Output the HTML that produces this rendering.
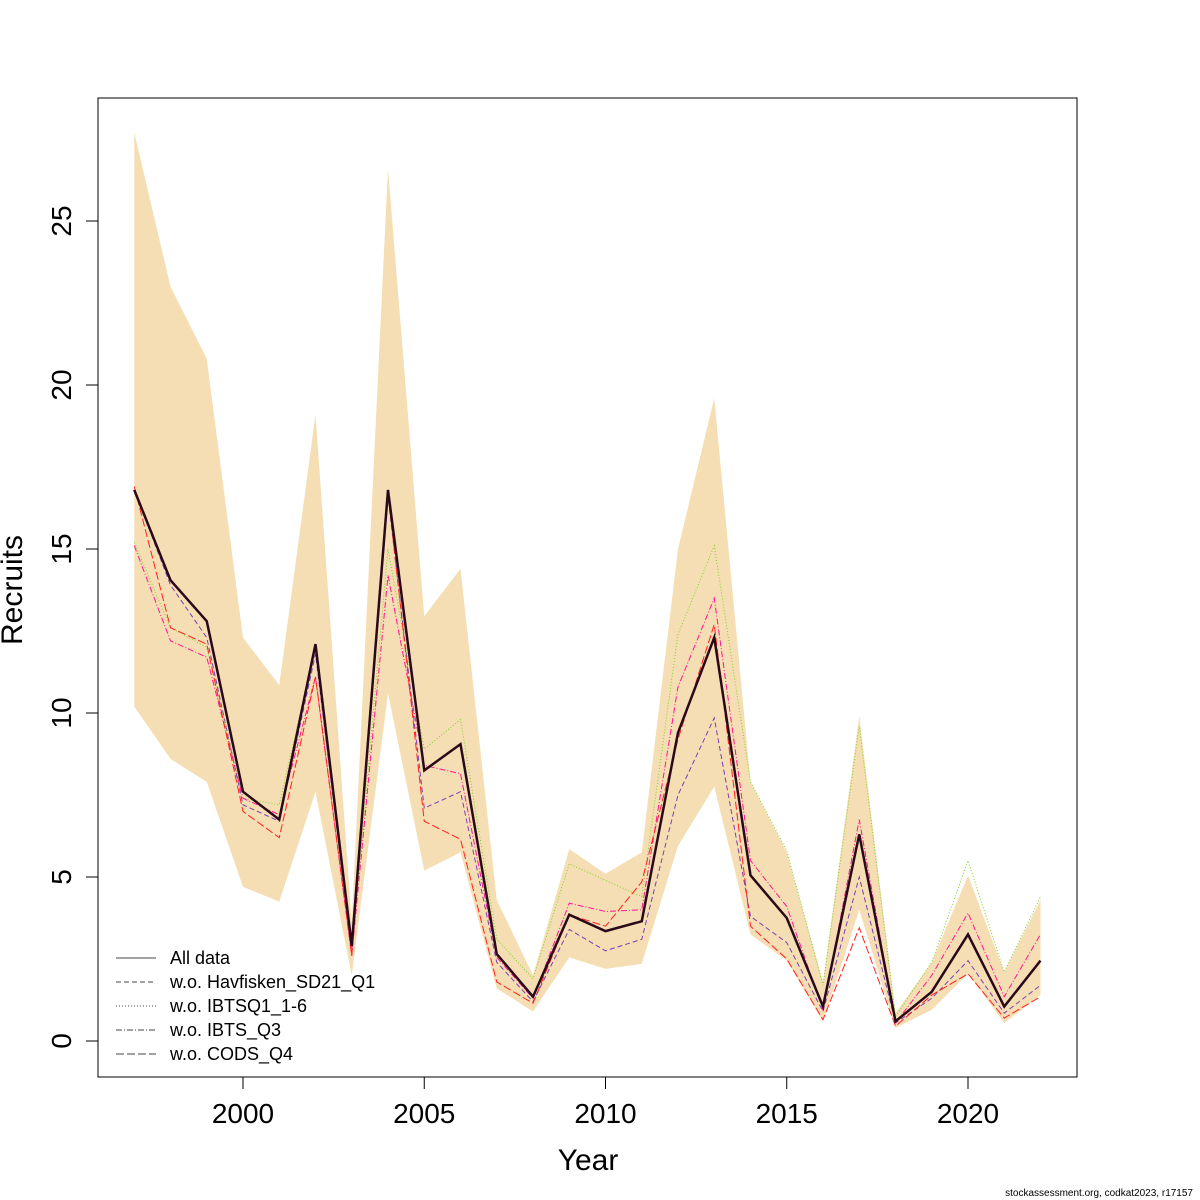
<!DOCTYPE html>
<html><head><meta charset="utf-8"><style>
html,body{margin:0;padding:0;background:#fff}
svg{display:block;font-family:"Liberation Sans",sans-serif}
</style></head><body>
<svg id="chart" width="1200" height="1200" viewBox="0 0 1200 1200" xmlns="http://www.w3.org/2000/svg">
<rect x="98" y="98" width="979" height="979" fill="none" stroke="#000" stroke-width="1"/>
<g id="band"></g>
<g id="lines"></g>
<g id="xaxis"></g>
<g id="yaxis"></g>
<text x="588" y="1170" font-size="30" text-anchor="middle">Year</text>
<text transform="translate(22,590) rotate(-90)" font-size="30" text-anchor="middle">Recruits</text>
<text x="1193" y="1196" font-size="10" text-anchor="end">stockassessment.org, codkat2023, r17157</text>
<g id="legend"></g>
</svg>
<script>
const years = [1997,1998,1999,2000,2001,2002,2003,2004,2005,2006,2007,2008,2009,2010,2011,2012,2013,2014,2015,2016,2017,2018,2019,2020,2021,2022];
const allData = [16.8,14.05,12.8,7.6,6.75,12.1,2.9,16.8,8.25,9.05,2.65,1.35,3.85,3.35,3.65,9.4,12.3,5.05,3.75,1.05,6.3,0.6,1.5,3.25,1.05,2.45];
const upper = [27.7,23.0,20.8,12.3,10.85,19.1,3.6,26.6,12.95,14.4,4.3,2.0,5.85,5.1,5.75,15.0,19.6,7.9,5.75,1.8,9.9,0.85,2.4,5.05,2.1,4.3];
const lower = [10.2,8.6,7.9,4.7,4.25,7.6,2.0,10.6,5.2,5.75,1.6,0.9,2.55,2.2,2.35,5.95,7.75,3.25,2.45,0.6,4.0,0.4,0.95,2.05,0.55,1.4];
const woHavfisken = [16.8,13.9,12.3,7.2,6.7,11.8,2.8,16.6,7.1,7.6,2.4,1.2,3.4,2.75,3.1,7.5,9.85,3.8,3.0,0.9,5.0,0.55,1.3,2.45,0.85,1.7];
const woIBTSQ1 = [15.2,12.6,12.0,7.4,7.2,12.0,2.7,15.0,8.9,9.8,3.1,1.9,5.4,4.9,4.4,12.4,15.1,7.9,5.8,1.7,9.6,0.75,2.4,5.5,2.1,4.4];
const woIBTSQ3 = [15.1,12.2,11.7,7.4,6.9,11.1,2.6,14.2,8.4,8.15,2.55,1.3,4.2,3.95,4.0,10.8,13.5,5.5,4.1,0.95,6.75,0.55,2.0,3.9,1.35,3.25];
const woCODS = [16.9,12.6,12.1,7.0,6.2,11.1,2.6,16.7,6.7,6.15,1.8,1.15,3.85,3.5,4.85,9.2,12.7,3.5,2.5,0.65,3.45,0.45,1.4,2.05,0.7,1.35];
const xTicks = [2000,2005,2010,2015,2020];
const yTicks = [0,5,10,15,20,25];
const legendLabels = ["All data","w.o. Havfisken_SD21_Q1","w.o. IBTSQ1_1-6","w.o. IBTS_Q3","w.o. CODS_Q4"];

const NS="http://www.w3.org/2000/svg";
const xs = y => 243 + (y-2000)*36.25;
const ys = v => 1041 - v*32.8;
function mk(tag, parent){const e=document.createElementNS(NS,tag);document.getElementById(parent).appendChild(e);return e;}

let pts = years.map((y,i)=>xs(y)+','+ys(upper[i]));
for(let i=years.length-1;i>=0;i--) pts.push(xs(years[i])+','+ys(lower[i]));
const band = mk('polygon','band');
band.setAttribute('points', pts.join(' '));
band.setAttribute('fill','#f5deb3');



const series = [
 {d:woHavfisken,c:"#7b3fb5",dash:"5,3",w:1,n:"line-wo-havfisken"},
 {d:woIBTSQ1,c:"#7ed321",dash:"1,2",w:1,n:"line-wo-ibtsq1"},
 {d:woIBTSQ3,c:"#ff1493",dash:"6,2,1,2",w:1,n:"line-wo-ibts-q3"},
 {d:woCODS,c:"#ff2020",dash:"8,3",w:1,n:"line-wo-cods-q4"},
 {d:allData,c:"#2a0a1a",dash:"",w:2.5,n:"line-all-data"}
];
series.forEach(s=>{
  const p = mk('polyline','lines');
  p.setAttribute('points', years.map((y,i)=>xs(y)+','+ys(s.d[i])).join(' '));
  p.setAttribute('fill','none');p.setAttribute('stroke',s.c);p.setAttribute('stroke-width',s.w);
  if(s.dash)p.setAttribute('stroke-dasharray',s.dash);
  
  
});

const xl = mk('line','xaxis');
xl.setAttribute('x1',xs(xTicks[0]));xl.setAttribute('x2',xs(xTicks[xTicks.length-1]));
xl.setAttribute('y1',1077);xl.setAttribute('y2',1077);xl.setAttribute('stroke','#000');


xTicks.forEach(t=>{
  const l=mk('line','xaxis');l.setAttribute('x1',xs(t));l.setAttribute('x2',xs(t));l.setAttribute('y1',1077);l.setAttribute('y2',1089);l.setAttribute('stroke','#000');
  
  
  const tx=mk('text','xaxis');tx.setAttribute('x',xs(t));tx.setAttribute('y',1123);tx.setAttribute('font-size','28');tx.setAttribute('text-anchor','middle');tx.textContent=t;
  
  
});
const yl = mk('line','yaxis');
yl.setAttribute('x1',98);yl.setAttribute('x2',98);yl.setAttribute('y1',ys(yTicks[0]));yl.setAttribute('y2',ys(yTicks[yTicks.length-1]));yl.setAttribute('stroke','#000');


yTicks.forEach(t=>{
  const l=mk('line','yaxis');l.setAttribute('x1',86);l.setAttribute('x2',98);l.setAttribute('y1',ys(t));l.setAttribute('y2',ys(t));l.setAttribute('stroke','#000');
  
  
  const tx=mk('text','yaxis');tx.setAttribute('transform','translate(71,'+ys(t)+') rotate(-90)');tx.setAttribute('font-size','28');tx.setAttribute('text-anchor','middle');tx.textContent=t;
  
  
});

const legDash = ["","5,3","1,2","6,2,1,2","8,3"];
legendLabels.forEach((lab,i)=>{
  const y = 958 + i*24;
  const l=mk('line','legend');l.setAttribute('x1',116);l.setAttribute('x2',156);l.setAttribute('y1',y);l.setAttribute('y2',y);l.setAttribute('stroke','#444');
  if(legDash[i])l.setAttribute('stroke-dasharray',legDash[i]);
  
  
  const tx=mk('text','legend');tx.setAttribute('x',170);tx.setAttribute('y',y+6);tx.setAttribute('font-size','18');tx.textContent=lab;
  
  
});
</script>
</body></html>
